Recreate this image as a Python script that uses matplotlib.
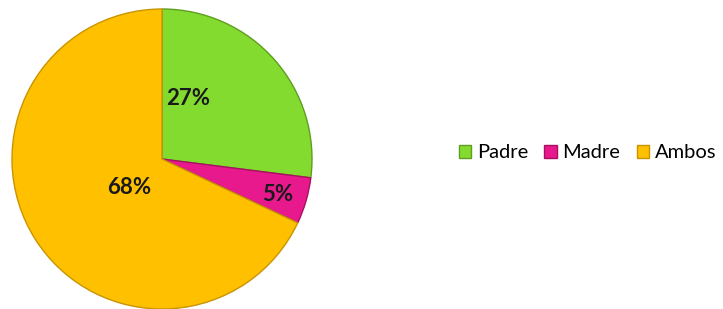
import numpy as np
import matplotlib
matplotlib.use("Agg")
import matplotlib.pyplot as plt
from matplotlib.patches import Patch

# data
labels = ["Padre", "Madre", "Ambos"]
values = [27, 5, 68]
colors = ["#84DB30", "#E8198C", "#FFC000"]
edges = ["#5E9E1E", "#A8105F", "#C99400"]

fig = plt.figure(figsize=(7.23, 3.09), dpi=100)
# pie axes: 300x300 px box on the left
ax = fig.add_axes([12 / 723, 0 / 309, 300 / 723, 300 / 309])

wedges, _ = ax.pie(values, colors=colors, startangle=90, counterclock=False,
                   radius=1.0, wedgeprops=dict(linewidth=1.0))
for w, ec in zip(wedges, edges):
    w.set_edgecolor(ec)

# label placement (radius fraction and angle tweak per slice)
lab_r = [0.44, 0.81, 0.29]
lab_da = [25, -1, 9]
for w, v, r, da in zip(wedges, values, lab_r, lab_da):
    mid = np.deg2rad((w.theta1 + w.theta2) / 2 + da)
    ax.text(r * np.cos(mid), r * np.sin(mid), f"{v}%", ha="center", va="center",
            fontsize=16, fontweight="bold", family="Lato", color="#1a1a1a")

ax.set_xlim(-1.0, 1.0)
ax.set_ylim(-1.0, 1.0)
ax.set_aspect("equal")
ax.axis("off")

handles = [Patch(facecolor=c, edgecolor=e) for c, e in zip(colors, edges)]
fig.legend(handles, labels, loc="center left", bbox_to_anchor=(459 / 723, 1 - 153 / 309),
           ncol=3, frameon=False, prop=dict(family="Lato", size=14.5),
           handlelength=0.6, handleheight=0.6, handletextpad=0.3, columnspacing=0.8,
           borderpad=0, borderaxespad=0)

fig.savefig("out.png", dpi=100, facecolor="white")
